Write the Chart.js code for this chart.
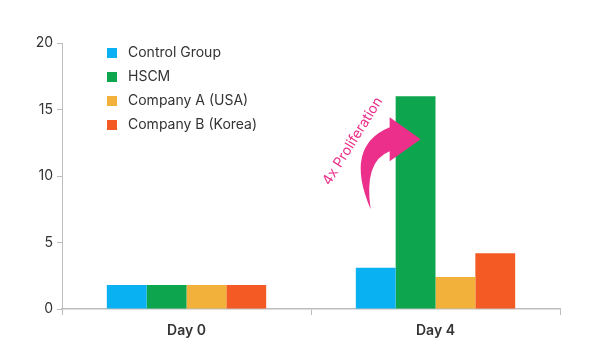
<!DOCTYPE html>
<html>
<head>
<meta charset="utf-8">
<script src="https://cdn.jsdelivr.net/npm/chart.js@4"></script>
<style>
  html, body { margin: 0; padding: 0; background: #fff; }
  #wrap { width: 600px; height: 363px; }
</style>
</head>
<body>
<div id="wrap"><canvas id="myChart" width="600" height="363"></canvas></div>
<script>
// chart values
const categories = ['Day 0', 'Day 4'];
const seriesNames = ['Control Group', 'HSCM', 'Company A (USA)', 'Company B (Korea)'];
const controlGroup = [1.8, 3.1];
const hscm = [1.8, 16];
const companyA = [1.8, 2.4];
const companyB = [1.8, 4.2];
const yTicks = [0, 5, 10, 15, 20];
const colors = ['#09b1f3', '#0da64e', '#f2b13b', '#f35a24'];
const annotationText = '4x Proliferation';

const seriesValues = [controlGroup, hscm, companyA, companyB];
const axisGray = '#bdbdbd';
const pink = '#eb2f8b';

// legend inside the plot, top left
const innerLegend = {
    id: 'innerLegend',
    afterDraw(chart) {
        const ctx = chart.ctx;
        const area = chart.chartArea;
        ctx.save();
        ctx.font = '14px Inter, "Noto Sans", sans-serif';
        ctx.textBaseline = 'middle';
        chart.data.datasets.forEach((ds, i) => {
            const y = area.top + 10 + i * 24;
            ctx.fillStyle = ds.backgroundColor;
            ctx.fillRect(area.left + 45, y - 5, 10, 10);
            ctx.fillStyle = '#333';
            ctx.fillText(ds.label, area.left + 66, y);
        });
        ctx.restore();
    }
};

// curved arrow + rotated note next to the HSCM bar on Day 4
const arrowNote = {
    id: 'arrowNote',
    afterDraw(chart) {
        const bar = chart.getDatasetMeta(1).data[1];
        if (!bar) return;
        const bx = bar.x - bar.width / 2;
        const by = bar.y;
        const ctx = chart.ctx;
        ctx.save();
        ctx.fillStyle = pink;
        ctx.beginPath();
        ctx.moveTo(bx - 25, by + 113);
        ctx.quadraticCurveTo(bx - 52, by + 50, bx - 6, by + 31);
        ctx.lineTo(bx - 6, by + 21);
        ctx.lineTo(bx + 25, by + 43);
        ctx.lineTo(bx - 6, by + 65);
        ctx.lineTo(bx - 6, by + 55);
        ctx.quadraticCurveTo(bx - 32, by + 65, bx - 25, by + 113);
        ctx.closePath();
        ctx.fill();

        ctx.translate(bx - 43, by + 45);
        ctx.rotate(-58 * Math.PI / 180);
        ctx.font = '14px Inter, "Noto Sans", sans-serif';
        ctx.textAlign = 'center';
        ctx.textBaseline = 'middle';
        ctx.fillText(annotationText, 0, 0);
        ctx.restore();
    }
};

const datasets = seriesNames.map((name, i) => ({
    label: name,
    data: seriesValues[i],
    backgroundColor: colors[i],
    borderWidth: 0,
    barPercentage: 1,
    categoryPercentage: 0.64
}));

const ctx = document.getElementById('myChart').getContext('2d');
const myChart = new Chart(ctx, { // eslint-disable-line
    type: 'bar',
    data: {
        labels: categories,
        datasets: datasets
    },
    options: {
        responsive: false,
        animation: false,
        layout: {
            padding: { left: 0, right: 40, top: 43, bottom: 0 }
        },
        plugins: {
            legend: { display: false },
            tooltip: { enabled: false }
        },
        scales: {
            x: {
                grid: {
                    display: true,
                    drawOnChartArea: false,
                    tickLength: 6,
                    color: axisGray
                },
                border: { color: axisGray, width: 1.5 },
                ticks: {
                    color: '#333',
                    padding: 7,
                    font: { family: 'Inter, "Noto Sans", sans-serif', size: 14, weight: '600' }
                },
                afterFit(scale) { scale.height = 54; }
            },
            y: {
                min: 0,
                max: 20,
                afterBuildTicks(scale) {
                    scale.ticks = yTicks.map(v => ({ value: v }));
                },
                grid: {
                    display: true,
                    drawOnChartArea: false,
                    tickLength: 5,
                    color: axisGray
                },
                border: { color: axisGray, width: 1 },
                ticks: {
                    color: '#333',
                    padding: 4,
                    font: { family: 'Inter, "Noto Sans", sans-serif', size: 14 }
                },
                afterFit(scale) { scale.width = 62; }
            }
        }
    },
    plugins: [innerLegend, arrowNote]
});
</script>
</body>
</html>
